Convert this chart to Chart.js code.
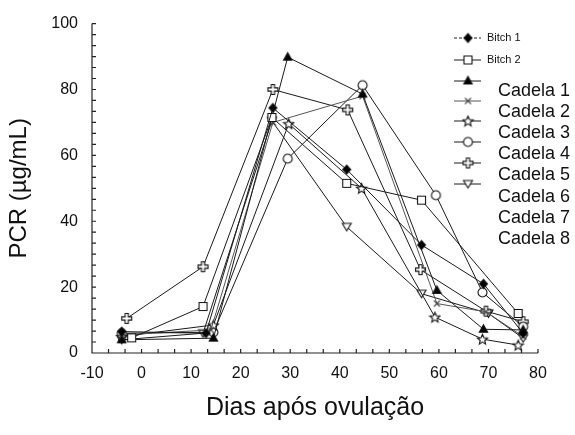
<!DOCTYPE html>
<html>
<head>
<meta charset="utf-8">
<script src="https://cdn.jsdelivr.net/npm/chart.js@4/dist/chart.umd.min.js"></script>
<style>
  html, body { margin: 0; padding: 0; background: #fff; }
  #wrap { width: 575px; height: 435px; }
</style>
</head>
<body>
<div id="wrap"><canvas id="pcrChart" width="575" height="435"></canvas></div>
<script>
// dias após ovulação (x) e PCR (y) de cada cadela
var c1x = [-4, 13, 26.5, 41.4, 56.5, 69, 77];
var c1y = [6.5, 6, 74.4, 55.7, 32.8, 21, 6];
var c2x = [-2, 12.4, 26.3, 41.4, 56.5, 76];
var c2y = [4.6, 14.1, 71.5, 51.5, 46.4, 12];
var c3x = [-4, 14.5, 29.5, 44.6, 59.6, 69, 77];
var c3y = [4, 4.5, 89.8, 78.6, 19, 7.2, 7];
var c4x = [-4, 14, 26.5, 44.6, 59.6, 69.5, 77];
var c4y = [5.5, 7, 70, 78, 15, 12.5, 5];
var c5x = [-4, 14.5, 29.7, 44.4, 59.2, 68.8, 76];
var c5y = [5, 8.5, 69.6, 50, 10.9, 4.2, 2.4];
var c6x = [-4, 14.5, 29.5, 44.6, 59.4, 68.8, 77];
var c6y = [6, 6.3, 59, 81.3, 47.9, 18.4, 8];
var c7x = [-3, 12.4, 26.5, 41.6, 56.3, 69.5, 77];
var c7y = [10.5, 26.2, 80, 73.8, 25.3, 12.7, 9.5];
var c8x = [-4, 12.4, 26.3, 41.4, 56.5, 70, 77];
var c8y = [4, 6, 70.5, 38.3, 18, 12, 4.5];

var seriesNames = ['Cadela 1', 'Cadela 2', 'Cadela 3', 'Cadela 4', 'Cadela 5', 'Cadela 6', 'Cadela 7', 'Cadela 8'];
var oldNames = ['Bitch 1', 'Bitch 2'];
var xTicks = [-10, 0, 10, 20, 30, 40, 50, 60, 70, 80];
var yTicks = [0, 20, 40, 60, 80, 100];

var FONT = "'Liberation Sans', Arial, sans-serif";

// marcadores desenhados num canvas pequeno
function marker(draw) {
    var c = document.createElement('canvas');
    c.width = 13; c.height = 13;
    var g = c.getContext('2d');
    g.translate(6.5, 6.5);
    g.lineWidth = 1.1;
    g.strokeStyle = '#111';
    g.fillStyle = '#fff';
    draw(g);
    return c;
}
function poly(g, pts, fill) {
    g.beginPath();
    g.moveTo(pts[0][0], pts[0][1]);
    for (var i = 1; i < pts.length; i++) g.lineTo(pts[i][0], pts[i][1]);
    g.closePath();
    if (fill) { g.fillStyle = fill; }
    g.fill();
    g.stroke();
}
var mDiamond = marker(function (g) { poly(g, [[0, -4.5], [4, 0], [0, 4.5], [-4, 0]], '#000'); });
var mSquare = marker(function (g) { poly(g, [[-4, -4], [4, -4], [4, 4], [-4, 4]]); });
var mTri = marker(function (g) { poly(g, [[0, -4.5], [4.2, 3], [-4.2, 3]], '#000'); });
var mX = marker(function (g) {
    g.strokeStyle = '#444';
    g.beginPath(); g.moveTo(-3, -3); g.lineTo(3, 3); g.moveTo(3, -3); g.lineTo(-3, 3); g.stroke();
});
var mStar = marker(function (g) {
    var p = [];
    for (var i = 0; i < 10; i++) {
        var r = i % 2 ? 2.4 : 5.3;
        var a = -Math.PI / 2 + i * Math.PI / 5;
        p.push([r * Math.cos(a), r * Math.sin(a) + 0.5]);
    }
    poly(g, p);
});
var mCircle = marker(function (g) {
    g.beginPath(); g.arc(0, 0, 4.5, 0, Math.PI * 2); g.fill(); g.stroke();
});
var mPlus = marker(function (g) {
    var a = 1.6, b = 5;
    poly(g, [[-a, -b], [a, -b], [a, -a], [b, -a], [b, a], [a, a], [a, b], [-a, b], [-a, a], [-b, a], [-b, -a], [-a, -a]]);
});
var mDown = marker(function (g) { poly(g, [[-4.5, -3.5], [4.5, -3.5], [0, 4]]); });

var markers = [mDiamond, mSquare, mTri, mX, mStar, mCircle, mPlus, mDown];
var xs = [c1x, c2x, c3x, c4x, c5x, c6x, c7x, c8x];
var ys = [c1y, c2y, c3y, c4y, c5y, c6y, c7y, c8y];

var datasets = seriesNames.map(function (name, i) {
    return {
        label: name,
        data: xs[i].map(function (x, j) { return { x: x, y: ys[i][j] }; }),
        showLine: true,
        borderColor: i === 3 ? '#555' : '#1a1a1a',
        borderWidth: 1,
        pointStyle: markers[i],
        pointRadius: 5,
        pointHoverRadius: 5
    };
});

// eixos com marcas para dentro
var axesPlugin = {
    id: 'axesPlugin',
    afterDatasetsDraw: function (chart) {
        var ctx = chart.ctx, xs_ = chart.scales.x, ys_ = chart.scales.y;
        var x0 = xs_.getPixelForValue(-10), x1 = xs_.getPixelForValue(80);
        var y0 = ys_.getPixelForValue(0), y1 = ys_.getPixelForValue(100);
        ctx.save();
        ctx.strokeStyle = '#222';
        ctx.lineWidth = 1.2;
        ctx.beginPath();
        ctx.moveTo(x0, y1); ctx.lineTo(x0, y0); ctx.lineTo(x1, y0);
        for (var k = 0; k <= 27; k++) {
            var px = xs_.getPixelForValue(-10 + k * 10 / 3);
            ctx.moveTo(px, y0); ctx.lineTo(px, y0 - 4);
        }
        for (var m = 0; m <= 30; m++) {
            var py = ys_.getPixelForValue(m * 20 / 6);
            ctx.moveTo(x0, py); ctx.lineTo(x0 + 4, py);
        }
        ctx.stroke();
        ctx.restore();
    }
};

// legenda como na figura original
var legendPlugin = {
    id: 'legendPlugin',
    afterDraw: function (chart) {
        var ctx = chart.ctx;
        var rowY = [38, 60, 81, 101, 121, 142, 163, 184];
        var textY = [91, 112, 133, 154, 175, 197, 218, 239];
        ctx.save();
        chart.data.datasets.forEach(function (ds, i) {
            var y = rowY[i];
            ctx.strokeStyle = ds.borderColor;
            ctx.lineWidth = 1;
            ctx.setLineDash(i === 0 ? [3, 2] : []);
            ctx.beginPath(); ctx.moveTo(454, y); ctx.lineTo(481, y); ctx.stroke();
            ctx.setLineDash([]);
            ctx.drawImage(ds.pointStyle, 468 - 6.5, y - 6.5);
        });
        ctx.fillStyle = '#111';
        ctx.textBaseline = 'middle';
        ctx.font = '11px ' + FONT;
        oldNames.forEach(function (t, i) { ctx.fillText(t, 487, rowY[i]); });
        ctx.font = '18px ' + FONT;
        chart.data.datasets.forEach(function (ds, i) { ctx.fillText(ds.label, 498, textY[i]); });
        ctx.restore();
    }
};

new Chart(document.getElementById('pcrChart').getContext('2d'), {
    type: 'scatter',
    data: { datasets: datasets },
    options: {
        responsive: false,
        animation: false,
        layout: { padding: { left: 0, top: 21, right: 37, bottom: 0 } },
        plugins: { legend: { display: false }, tooltip: { enabled: false } },
        scales: {
            x: {
                type: 'linear', min: -10, max: 80,
                afterFit: function (s) { s.height = 82; },
                afterBuildTicks: function (s) { s.ticks = xTicks.map(function (v) { return { value: v }; }); },
                grid: { display: false, drawTicks: false },
                border: { display: false },
                ticks: { color: '#111', font: { family: FONT, size: 16 }, padding: 11, maxRotation: 0 },
                title: { display: true, text: 'Dias após ovulação', color: '#111', font: { family: FONT, size: 25 }, padding: { top: 0, bottom: 12 } }
            },
            y: {
                type: 'linear', min: 0, max: 100,
                afterFit: function (s) { s.width = 92; },
                afterBuildTicks: function (s) { s.ticks = yTicks.map(function (v) { return { value: v }; }); },
                grid: { display: false, drawTicks: false },
                border: { display: false },
                ticks: { color: '#111', font: { family: FONT, size: 16 }, padding: 14 },
                title: { display: true, text: 'PCR (µg/mL)', color: '#111', font: { family: FONT, size: 24 }, padding: { top: 5, bottom: 0 } }
            }
        }
    },
    plugins: [axesPlugin, legendPlugin]
});
</script>
</body>
</html>
